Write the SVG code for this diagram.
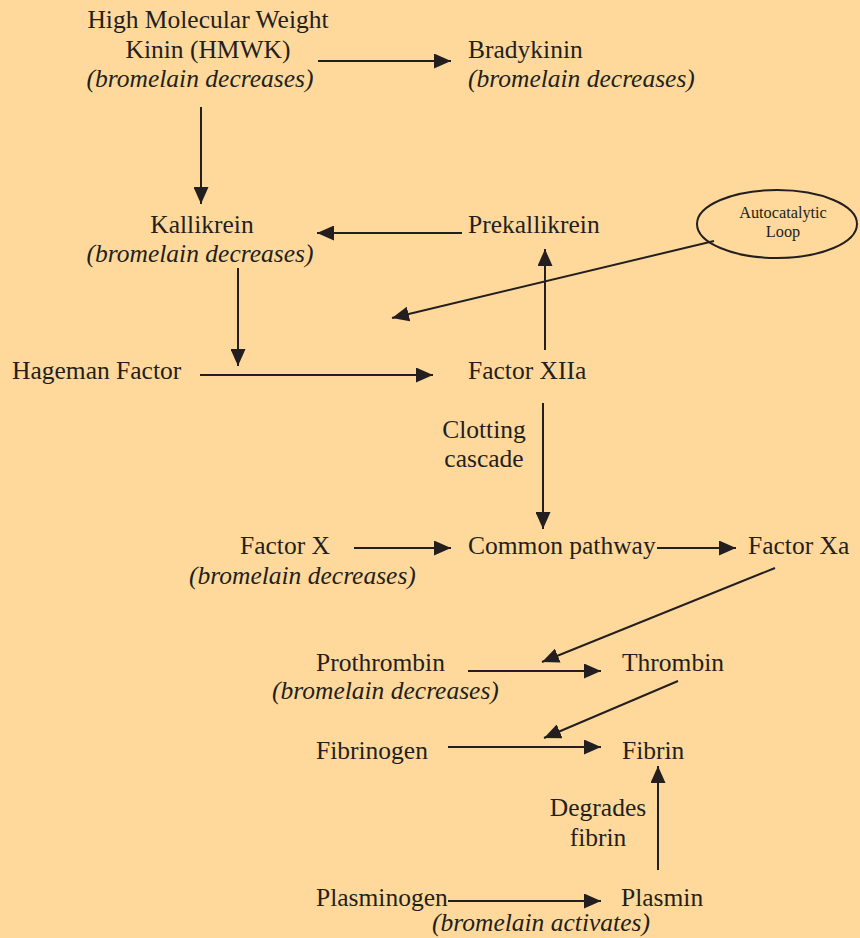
<svg xmlns="http://www.w3.org/2000/svg" width="860" height="938" viewBox="0 0 860 938">
<style>
text{font-family:"Liberation Serif","Times New Roman",serif;font-size:25.5px;fill:#231f20}
.i{font-style:italic}
.s{font-size:16.3px}
.c{stroke:#231f20;stroke-width:2;fill:none}
</style>
<defs>
<marker id="a" markerUnits="userSpaceOnUse" markerWidth="18" markerHeight="15" refX="17" refY="7.5" orient="auto">
<path d="M0,0 L17,7.5 L0,15 Z" fill="#231f20"/>
</marker>
</defs>
<rect width="860" height="938" fill="#fed99b"/>
<g id="connectors">
<line class="c" x1="318" y1="61" x2="451" y2="61" marker-end="url(#a)"/>
<line class="c" x1="201" y1="107" x2="201" y2="204" marker-end="url(#a)"/>
<line class="c" x1="462" y1="233" x2="317" y2="233" marker-end="url(#a)"/>
<line class="c" x1="714" y1="241" x2="392" y2="318" marker-end="url(#a)"/>
<line class="c" x1="238" y1="268" x2="238" y2="366" marker-end="url(#a)"/>
<line class="c" x1="200" y1="375" x2="433" y2="375" marker-end="url(#a)"/>
<line class="c" x1="545" y1="350" x2="545" y2="249" marker-end="url(#a)"/>
<line class="c" x1="543" y1="403" x2="543" y2="529" marker-end="url(#a)"/>
<line class="c" x1="354" y1="548" x2="451" y2="548" marker-end="url(#a)"/>
<line class="c" x1="657" y1="548" x2="736" y2="548" marker-end="url(#a)"/>
<line class="c" x1="775" y1="568" x2="542" y2="662" marker-end="url(#a)"/>
<line class="c" x1="468" y1="671" x2="601" y2="671" marker-end="url(#a)"/>
<line class="c" x1="678" y1="681" x2="544" y2="738" marker-end="url(#a)"/>
<line class="c" x1="448" y1="747" x2="601" y2="747" marker-end="url(#a)"/>
<line class="c" x1="658" y1="870" x2="658" y2="766" marker-end="url(#a)"/>
<line class="c" x1="448" y1="901" x2="601" y2="901" marker-end="url(#a)"/>
</g>
<g id="hmwk" text-anchor="middle">
<text x="208" y="28">High Molecular Weight</text>
<text x="208" y="58">Kinin (HMWK)</text>
<text class="i" x="200" y="87">(bromelain decreases)</text>
</g>
<g id="bradykinin">
<text x="468" y="58">Bradykinin</text>
<text class="i" x="468" y="87">(bromelain decreases)</text>
</g>
<g id="kallikrein" text-anchor="middle">
<text x="202" y="233">Kallikrein</text>
<text class="i" x="200" y="262">(bromelain decreases)</text>
</g>
<g id="prekallikrein"><text x="468" y="233">Prekallikrein</text></g>
<g id="loop">
<ellipse cx="777" cy="224" rx="80" ry="34" class="c"/>
<text class="s" x="783" y="218" text-anchor="middle">Autocatalytic</text>
<text class="s" x="783" y="237" text-anchor="middle">Loop</text>
</g>
<g id="hageman"><text x="12" y="379">Hageman Factor</text></g>
<g id="factor-xiia"><text x="468" y="379">Factor XIIa</text></g>
<g id="clotting" text-anchor="middle">
<text x="484" y="438">Clotting</text>
<text x="484" y="467">cascade</text>
</g>
<g id="factor-x">
<text x="240" y="554">Factor X</text>
<text class="i" x="189" y="584">(bromelain decreases)</text>
</g>
<g id="common"><text x="468" y="554">Common pathway</text></g>
<g id="factor-xa"><text x="748" y="554">Factor Xa</text></g>
<g id="prothrombin">
<text x="316" y="671">Prothrombin</text>
<text class="i" x="272" y="699">(bromelain decreases)</text>
</g>
<g id="thrombin"><text x="622" y="671">Thrombin</text></g>
<g id="fibrinogen"><text x="316" y="759">Fibrinogen</text></g>
<g id="fibrin"><text x="622" y="759">Fibrin</text></g>
<g id="degrades" text-anchor="middle">
<text x="598" y="816">Degrades</text>
<text x="598" y="846">fibrin</text>
</g>
<g id="plasminogen"><text x="316" y="906">Plasminogen</text></g>
<g id="plasmin">
<text x="621" y="906">Plasmin</text>
<text class="i" x="432" y="931">(bromelain activates)</text>
</g>
</svg>
